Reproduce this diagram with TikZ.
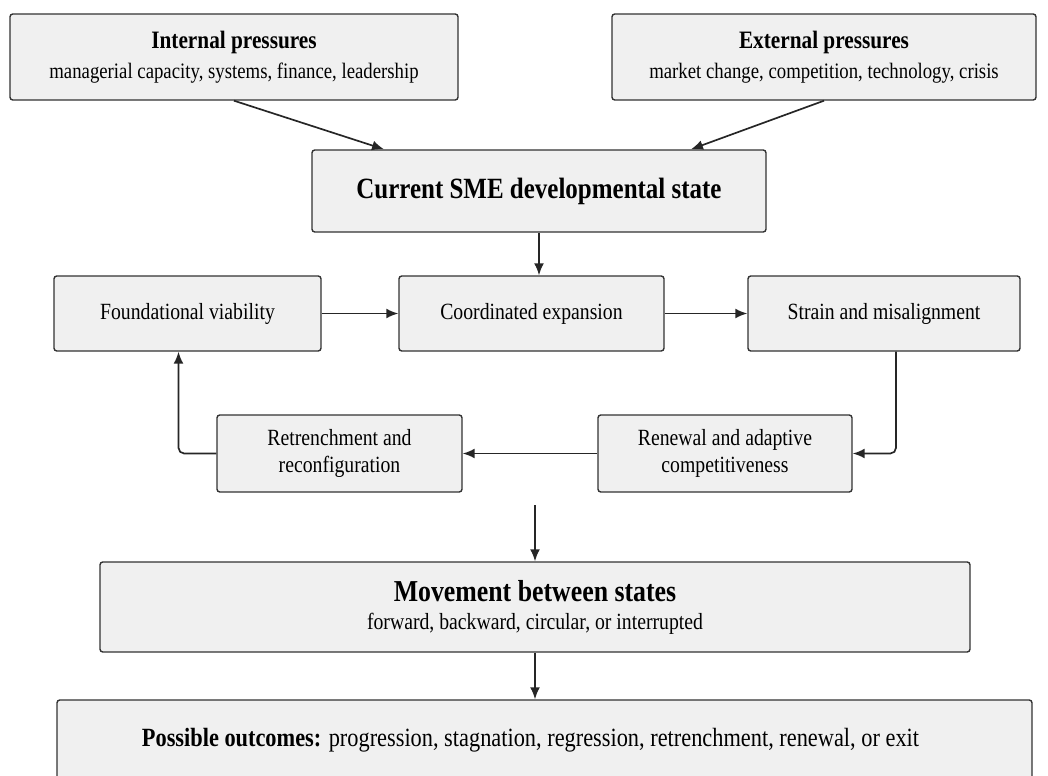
\documentclass[tikz,border=0pt]{standalone}
\usepackage{fontspec}
\setmainfont{Liberation Serif}[FakeStretch=0.85]
\usepackage{tikz}
\usetikzlibrary{calc,arrows.meta}

\newlength\px
\setlength\px{0.025cm}

\begin{document}
\begin{tikzpicture}[x=\px,y=-\px,
		box/.style={draw=black!80, fill=black!6, line width=1pt, rounded corners=2pt,
			align=center, inner sep=0pt, font=\fontsize{16.5}{19}\selectfont},
		arr/.style={-{Latex[length=8.5pt,width=7pt]}, line width=1.2pt, draw=black!85}]
		\clip (0,0) rectangle (1048,776);

		% top row
		\node (inter) [box, minimum width=448\px, minimum height=86\px] at (234,57)
			{{\fontsize{17.8}{21}\selectfont\bfseries Internal pressures}\\[2pt]
			\fontsize{15.7}{19}\selectfont managerial capacity, systems, finance, leadership};
		\node (exter) [box, minimum width=424\px, minimum height=86\px] at (824,57)
			{{\fontsize{17.8}{21}\selectfont\bfseries External pressures}\\[2pt]
			\fontsize{15.7}{19}\selectfont market change, competition, technology, crisis};

		\node (cur) [box, minimum width=454\px, minimum height=82\px] at (539,191)
			{\fontsize{20.9}{25}\selectfont\bfseries Current SME developmental state};

		% states
		\node (found) [box, minimum width=267\px, minimum height=75\px] at (187.5,313.5) {Foundational viability};
		\node (coord) [box, minimum width=265\px, minimum height=75\px] at (531.5,313.5) {Coordinated expansion};
		\node (strain) [box, minimum width=272\px, minimum height=75\px] at (884,313.5) {Strain and misalignment};
		\node (retr) [box, minimum width=245\px, minimum height=77\px] at (339.5,453.5) {Retrenchment and\\reconfiguration};
		\node (renew) [box, minimum width=254\px, minimum height=77\px] at (725,453.5) {Renewal and adaptive\\competitiveness};

		\node (move) [box, minimum width=870\px, minimum height=90\px] at (535,607)
			{{\fontsize{21.6}{25}\selectfont\bfseries Movement between states}\\[1pt]
			\fontsize{16.5}{19}\selectfont forward, backward, circular, or interrupted};
		\node (outc) [box, minimum width=975\px, minimum height=80\px] at (544.5,740)
			{\fontsize{18.7}{22}\selectfont\textbf{Possible outcomes:} progression, stagnation, regression, retrenchment, renewal, or exit\hspace{28\px}};

		\coordinate (gap) at (535,505);

		\draw [arr] (inter.south) -- ($(cur.north)+(-155,0)$);
		\draw [arr] (exter.south) -- ($(cur.north)+(152,0)$);
		\draw [arr] (cur.south) -- (cur.south |- coord.north);
		\draw [arr] (found) -- (coord);
		\draw [arr] (coord) -- (strain);
		\draw [arr, rounded corners=4pt] ($(strain.south)+(12,0)$) |- (renew.east);
		\draw [arr] (renew) -- (retr);
		\draw [arr, rounded corners=4pt] (retr.west) -| ($(found.south)+(-9,0)$);
		\draw [arr] (gap) -- (move.north);
		\draw [arr] (move.south) -- (move.south |- outc.north);
	\end{tikzpicture}
\end{document}
